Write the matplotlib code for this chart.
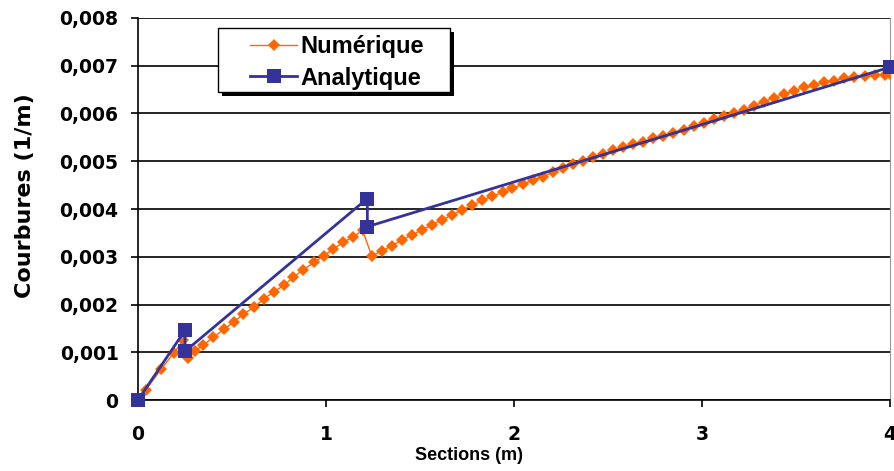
import matplotlib.pyplot as plt
from matplotlib.ticker import FuncFormatter
from matplotlib.patches import Rectangle

plt.rcParams['font.family'] = ['Liberation Sans', 'DejaVu Sans']
plt.rcParams['font.weight'] = 'bold'

# Numérique (orange diamonds)
num_x = [0.0, 0.043, 0.122, 0.191, 0.241,
         0.268, 0.303, 0.347, 0.400, 0.457, 0.512, 0.560, 0.617, 0.670, 0.725,
         0.778, 0.826, 0.879, 0.936, 0.989, 1.036, 1.092, 1.142, 1.195,
         1.243, 1.297, 1.350, 1.404, 1.457, 1.511, 1.564, 1.618, 1.671, 1.725,
         1.778, 1.832, 1.885, 1.939, 1.992, 2.046, 2.099, 2.153, 2.206, 2.260,
         2.313, 2.367, 2.420, 2.474, 2.527, 2.581, 2.634, 2.688, 2.741, 2.795,
         2.848, 2.902, 2.955, 3.009, 3.062, 3.116, 3.169, 3.223, 3.276, 3.330,
         3.383, 3.437, 3.490, 3.544, 3.597, 3.651, 3.704, 3.758, 3.811, 3.865,
         3.918, 3.972, 4.0]
num_y = [0.0, 0.00022, 0.00064, 0.00099, 0.00126,
         0.00087, 0.00103, 0.00115, 0.00131, 0.00148, 0.00164, 0.00180, 0.00194, 0.00212, 0.00227,
         0.00241, 0.00257, 0.00273, 0.00288, 0.00302, 0.00316, 0.00330, 0.00342, 0.00355,
         0.00302, 0.00312, 0.00323, 0.00335, 0.00346, 0.00356, 0.00367, 0.00377, 0.00388, 0.00398,
         0.00408, 0.00418, 0.00427, 0.00435, 0.00443, 0.00452, 0.00460, 0.00468, 0.00477, 0.00485,
         0.00494, 0.00501, 0.00509, 0.00515, 0.00523, 0.00529, 0.00536, 0.00541, 0.00548, 0.00553,
         0.00559, 0.00566, 0.00573, 0.00581, 0.00588, 0.00594, 0.00600, 0.00608, 0.00616, 0.00625,
         0.00633, 0.00641, 0.00648, 0.00655, 0.00660, 0.00665, 0.00669, 0.00674, 0.00677, 0.00678,
         0.00680, 0.00681, 0.00683]

# Analytique (blue squares)
ana_x = [0.0, 0.25, 0.25, 1.22, 1.22, 4.0]
ana_y = [0.0, 0.00146, 0.00102, 0.00422, 0.00363, 0.00697]

x_ticks = [0, 1, 2, 3, 4]
y_ticks = [0, 0.001, 0.002, 0.003, 0.004, 0.005, 0.006, 0.007, 0.008]

W, H = 895, 471
fig = plt.figure(figsize=(8.95, 4.71), dpi=100)
ax = fig.add_axes([0.1542, 0.1507, 0.8402, 0.8111])

ax.plot(num_x, num_y, color='#FF6600', lw=1.0, marker='D', markersize=6.5,
        markeredgewidth=0, label='Numérique', zorder=3)
ax.plot(ana_x, ana_y, color='#333399', lw=2.0, marker='s', markersize=9.5,
        markeredgewidth=0, label='Analytique', zorder=4, clip_on=False)

ax.set_xlim(0, 4)
ax.set_ylim(0, 0.008)
ax.set_xticks(x_ticks)
ax.set_yticks(y_ticks)
ax.yaxis.set_major_formatter(FuncFormatter(
    lambda v, p: '0' if v == 0 else ('%.3f' % v).replace('.', ',')))
ax.tick_params(axis='both', direction='out', length=5, width=1.2,
               labelsize=13.5, color='black')
ax.tick_params(axis='x', pad=13)
ax.tick_params(axis='y', pad=9)
for t in ax.get_xticklabels() + ax.get_yticklabels():
    t.set_fontfamily('DejaVu Sans')
    t.set_fontweight('bold')

ax.grid(axis='y', color='black', lw=1.2)
ax.set_axisbelow(True)
ax.spines['top'].set_visible(False)
ax.spines['right'].set_color('#999999')
ax.spines['left'].set_linewidth(1.2)
ax.spines['bottom'].set_linewidth(1.2)

ax.set_xlabel('Sections (m)', fontsize=13, fontweight='bold', labelpad=0)
ax.xaxis.set_label_coords(0.44, -0.124)
ax.set_ylabel('Courbures (1/m)', fontsize=16, fontweight='bold',
              family='DejaVu Sans')
ax.yaxis.set_label_coords(-0.137, 0.534)

# legend box with black drop shadow
bx, by, bw, bh = 218, 28, 232, 64
fig.patches.append(Rectangle(((bx + 4) / W, (H - by - bh - 4) / H), bw / W, bh / H,
                             transform=fig.transFigure, facecolor='black',
                             edgecolor='none', zorder=8))
fig.patches.append(Rectangle((bx / W, (H - by - bh) / H), bw / W, bh / H,
                             transform=fig.transFigure, facecolor='white',
                             edgecolor='black', lw=1.0, zorder=9))
leg = ax.legend(loc='upper left', bbox_to_anchor=(250 / W, (H - 35) / H),
                bbox_transform=fig.transFigure, fontsize=17, frameon=False,
                handlelength=2.0, borderpad=0, labelspacing=0.36,
                handletextpad=0.15, borderaxespad=0)
leg.set_zorder(10)
leg.remove()
fig.legends.append(leg)
leg.set_figure(fig)

fig.savefig('out.png', dpi=100)
